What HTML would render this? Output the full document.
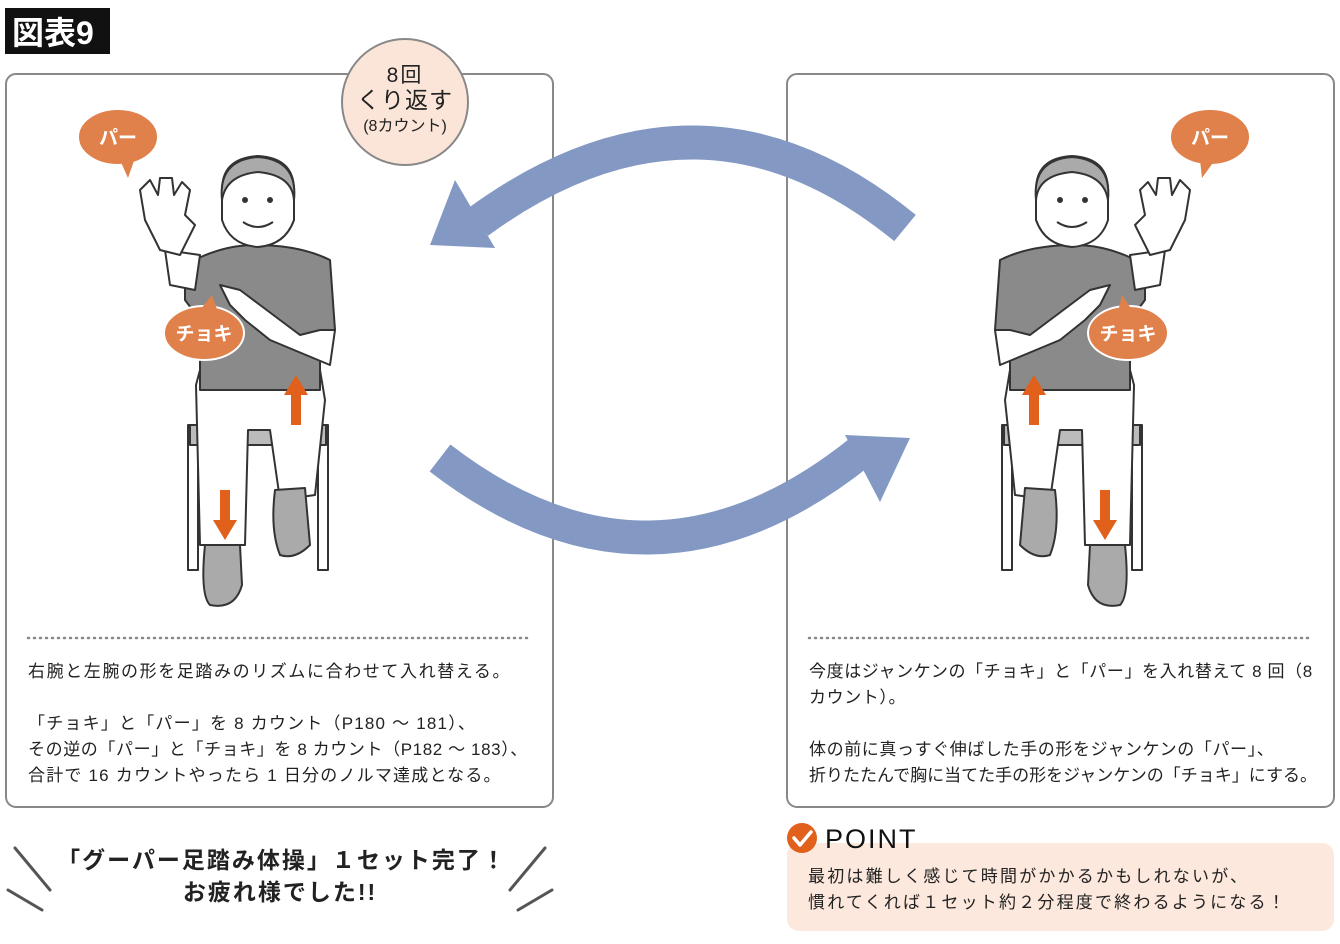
<!DOCTYPE html>
<html><head><meta charset="utf-8"><style>
body{margin:0;background:#fff;}
svg text{font-family:"Liberation Sans","Noto Sans CJK JP",sans-serif;}
</style></head><body>
<svg width="1340" height="939" viewBox="0 0 1340 939" xmlns="http://www.w3.org/2000/svg">
<defs>
<g id="fig" stroke="#333" stroke-width="2" stroke-linejoin="round">
  <rect x="188" y="425" width="10" height="145" fill="#fff"/>
  <rect x="318" y="425" width="10" height="145" fill="#fff"/>
  <rect x="190" y="425" width="136" height="20" fill="#bbb"/>
  <path d="M196 385 L200 545 L245 545 L248 430 L270 430 L280 500 L315 495 L325 400 L320 370 L200 370 Z" fill="#fff"/>
  <path d="M205 545 L240 545 L242 585 Q235 610 210 605 Q200 595 205 545Z" fill="#aaa"/>
  <path d="M275 490 L305 488 L310 545 Q295 560 280 555 Q270 530 275 490Z" fill="#aaa"/>
  <path d="M185 265 Q220 245 255 245 Q300 245 330 260 L335 330 L320 335 L320 390 L200 390 L200 320 L185 300Z" fill="#8a8a8a"/>
  <path d="M165 250 L200 255 L195 290 L170 285Z" fill="#fff"/>
  <path d="M140 190 L150 180 L158 195 L160 178 L172 178 L174 195 L182 182 L190 190 L185 215 L195 225 L180 255 L160 250 L145 220Z" fill="#fff"/>
  <path d="M320 330 L335 330 L330 365 L270 340 L245 320 L230 305 L220 285 L240 290 L260 305 L300 335Z" fill="#fff"/>
  <path d="M222 190 Q222 158 258 156 Q294 158 294 190 L294 220 Q285 245 258 247 Q230 245 222 220Z" fill="#fff"/>
  <path d="M222 200 Q218 160 258 157 Q298 160 294 200 Q292 175 258 172 Q226 175 222 200Z" fill="#aaa"/>
  <circle cx="245" cy="200" r="2" fill="#333"/>
  <circle cx="270" cy="200" r="2" fill="#333"/>
  <path d="M243 222 Q258 232 273 222" fill="none"/>
  <path d="M291 425 L291 395 L284 395 L296 375 L308 395 L301 395 L301 425Z" fill="#e0601c" stroke="none"/>
  <path d="M220 490 L230 490 L230 520 L237 520 L225 540 L213 520 L220 520Z" fill="#e0601c" stroke="none"/>
</g>
</defs>
<rect x="5" y="8" width="105" height="46" fill="#111"/>
<text x="12" y="44" font-size="32" fill="#fff" font-weight="bold">図表9</text>

<rect x="6" y="74" width="547" height="733" rx="10" fill="#fff" stroke="#888" stroke-width="2"/>
<rect x="787" y="74" width="547" height="733" rx="10" fill="#fff" stroke="#888" stroke-width="2"/>

<path d="M905 228 Q700 60 478 222" fill="none" stroke="#8399c4" stroke-width="34"/>
<path d="M430 245 L455 180 L495 248Z" fill="#8399c4"/>
<path d="M440 458 Q650 620 860 452" fill="none" stroke="#8399c4" stroke-width="34"/>
<path d="M910 438 L845 435 L880 502Z" fill="#8399c4"/>

<circle cx="405" cy="102" r="63" fill="#fbe5d8" stroke="#888" stroke-width="2"/>
<text x="405" y="82" font-size="21" text-anchor="middle" fill="#222" letter-spacing="2">8回</text>
<text x="405" y="108" font-size="23" text-anchor="middle" fill="#222" letter-spacing="1">くり返す</text>
<text x="405" y="131" font-size="16" text-anchor="middle" fill="#222">(8カウント)</text>

<use href="#fig"/>
<use href="#fig" transform="translate(1330,0) scale(-1,1)"/>

<g fill="#e0804a" stroke="#fff" stroke-width="2">
<ellipse cx="118" cy="137" rx="40" ry="28"/><path d="M120 160 L128 178 L135 158Z" stroke="none"/>
<ellipse cx="204" cy="333" rx="40" ry="27"/><path d="M200 310 L212 295 L218 312Z" stroke="none"/>
<ellipse cx="1210" cy="137" rx="40" ry="28"/><path d="M1200 160 L1202 178 L1215 160Z" stroke="none"/>
<ellipse cx="1128" cy="333" rx="40" ry="27"/><path d="M1118 312 L1122 295 L1132 310Z" stroke="none"/>
</g>
<g fill="#fff" font-size="19" font-weight="bold" text-anchor="middle">
<text x="118" y="144">パー</text><text x="204" y="340">チョキ</text>
<text x="1210" y="144">パー</text><text x="1128" y="340">チョキ</text>
</g>

<line x1="28" y1="638" x2="532" y2="638" stroke="#888" stroke-width="2.5" stroke-dasharray="1 5" stroke-linecap="round"/>
<line x1="809" y1="638" x2="1313" y2="638" stroke="#888" stroke-width="2.5" stroke-dasharray="1 5" stroke-linecap="round"/>
<g font-size="17" fill="#222" letter-spacing="1.6">
<text x="28" y="677">右腕と左腕の形を足踏みのリズムに合わせて入れ替える。</text>
<text x="28" y="729" letter-spacing="1.2">「チョキ」と「パー」を 8 カウント（P180 ～ 181）、</text>
<text x="28" y="755" letter-spacing="0.6">その逆の「パー」と「チョキ」を 8 カウント（P182 ～ 183）、</text>
<text x="28" y="781" letter-spacing="1.2">合計で 16 カウントやったら 1 日分のノルマ達成となる。</text>
<text x="809" y="677" letter-spacing="0.6">今度はジャンケンの「チョキ」と「パー」を入れ替えて 8 回（8</text>
<text x="809" y="703" letter-spacing="0.6">カウント）。</text>
<text x="809" y="755" letter-spacing="0.6">体の前に真っすぐ伸ばした手の形をジャンケンの「パー」、</text>
<text x="809" y="781" letter-spacing="0">折りたたんで胸に当てた手の形をジャンケンの「チョキ」にする。</text>
</g>

<g font-size="23" font-weight="bold" fill="#222" text-anchor="middle" letter-spacing="2">
<text x="282" y="868">「グーパー足踏み体操」１セット完了！</text>
<text x="280" y="900">お疲れ様でした!!</text>
</g>
<g stroke="#555" stroke-width="3" stroke-linecap="round">
<line x1="15" y1="848" x2="50" y2="890"/><line x1="8" y1="890" x2="42" y2="910"/>
<line x1="545" y1="848" x2="510" y2="890"/><line x1="552" y1="890" x2="518" y2="910"/>
</g>

<rect x="787" y="843" width="547" height="88" rx="12" fill="#fce8dc"/>
<circle cx="802" cy="838" r="15" fill="#e0601c"/>
<path d="M794 838 L800 845 L811 832" fill="none" stroke="#fff" stroke-width="3.5" stroke-linecap="round" stroke-linejoin="round"/>
<text x="825" y="848" font-size="27" fill="#111" letter-spacing="2">POINT</text>
<g font-size="17" fill="#222" letter-spacing="2.2">
<text x="808" y="882">最初は難しく感じて時間がかかるかもしれないが、</text>
<text x="808" y="908">慣れてくれば１セット約２分程度で終わるようになる！</text>
</g>
</svg>
</body></html>
